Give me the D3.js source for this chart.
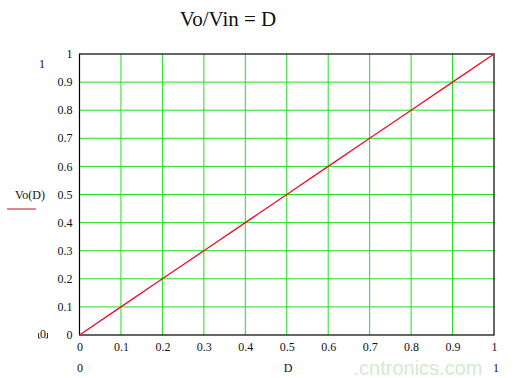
<!DOCTYPE html>
<html>
<head>
<meta charset="utf-8">
<script src="https://cdn.jsdelivr.net/npm/d3@7"></script>
<style>
  body { margin: 0; background: #fff; }
  svg text { font-family: "Liberation Serif", "Times New Roman", serif; fill: #111; }
</style>
</head>
<body>
<svg id="chart" width="520" height="378"></svg>
<script>
// data: Vo/Vin = D (straight line from 0 to 1)
const dutyValues = [0, 0.1, 0.2, 0.3, 0.4, 0.5, 0.6, 0.7, 0.8, 0.9, 1];
const voValues = [0, 0.1, 0.2, 0.3, 0.4, 0.5, 0.6, 0.7, 0.8, 0.9, 1];
const xTicks = [0, 0.1, 0.2, 0.3, 0.4, 0.5, 0.6, 0.7, 0.8, 0.9, 1];
const yTicks = [0, 0.1, 0.2, 0.3, 0.4, 0.5, 0.6, 0.7, 0.8, 0.9, 1];

const svg = d3.select("#chart");
const plotL = 79.5, plotR = 494, plotT = 54, plotB = 335;

const x = d3.scaleLinear().domain([0, 1]).range([plotL, plotR]);
const y = d3.scaleLinear().domain([0, 1]).range([plotB, plotT]);

// title
svg.append("text")
  .attr("x", 228).attr("y", 26)
  .attr("text-anchor", "middle")
  .attr("font-size", "21px")
  .text("Vo/Vin = D");

// green grid
svg.append("g")
  .selectAll("line")
  .data(xTicks.slice(1, -1))
  .enter()
  .append("line")
  .attr("x1", (d) => x(d)).attr("x2", (d) => x(d))
  .attr("y1", plotT).attr("y2", plotB)
  .attr("stroke", "#22dd22").attr("stroke-width", 1);

svg.append("g")
  .selectAll("line")
  .data(yTicks.slice(1, -1))
  .enter()
  .append("line")
  .attr("x1", plotL).attr("x2", plotR)
  .attr("y1", (d) => y(d)).attr("y2", (d) => y(d))
  .attr("stroke", "#22dd22").attr("stroke-width", 1);

// frame
svg.append("rect")
  .attr("x", plotL).attr("y", plotT)
  .attr("width", plotR - plotL).attr("height", plotB - plotT)
  .attr("fill", "none").attr("stroke", "#000").attr("stroke-width", 1.2);

// the line
const line = d3.line()
  .x((d, i) => x(dutyValues[i]))
  .y((d) => y(d));

svg.append("path")
  .datum(voValues)
  .attr("d", line)
  .attr("fill", "none")
  .attr("stroke", "#e8102a")
  .attr("stroke-width", 1.3);

// y tick labels
svg.append("g")
  .attr("transform", `translate(${plotL},0)`)
  .call(d3.axisLeft(y).tickValues(yTicks).tickSize(0).tickPadding(7).tickFormat(d3.format("")))
  .call((g) => g.select(".domain").remove())
  .call((g) => g.selectAll("text")
    .style("font-size", "12px")
    .attr("dy", "0.3em"));

// x tick labels
svg.append("g")
  .attr("transform", `translate(0,${plotB})`)
  .call(d3.axisBottom(x).tickValues(xTicks).tickSize(0).tickPadding(7).tickFormat(d3.format("")))
  .call((g) => g.select(".domain").remove())
  .call((g) => g.selectAll("text")
    .style("font-size", "12px"));

// range labels around the plot
svg.append("text").attr("x", 42).attr("y", 68).attr("text-anchor", "middle").attr("font-size", "12px").text("1");
svg.append("text").attr("x", 43).attr("y", 338).attr("text-anchor", "middle").attr("font-size", "12px").text("0");
svg.append("path")
  .attr("d", "M38.5,333 v5 h2 M47.5,333 v5 h-2")
  .attr("fill", "none").attr("stroke", "#000").attr("stroke-width", 0.8);
svg.append("text").attr("x", 80).attr("y", 372).attr("text-anchor", "middle").attr("font-size", "12px").text("0");
svg.append("text").attr("x", 288).attr("y", 372).attr("text-anchor", "middle").attr("font-size", "12px").text("D");
svg.append("text").attr("x", 496).attr("y", 372).attr("text-anchor", "middle").attr("font-size", "12px").text("1");

// legend label
svg.append("text").attr("x", 30).attr("y", 199).attr("text-anchor", "middle").attr("font-size", "12px").text("Vo(D)");
svg.append("line")
  .attr("x1", 7).attr("x2", 36).attr("y1", 209).attr("y2", 209)
  .attr("stroke", "#c0101e").attr("stroke-width", 1);

// watermark
svg.append("text")
  .attr("x", 418).attr("y", 375)
  .attr("text-anchor", "middle")
  .style("font-family", "Liberation Sans, Arial, sans-serif")
  .style("fill", "#d3ead0")
  .attr("font-size", "20px")
  .text(".cntronics.com");
</script>
</body>
</html>
